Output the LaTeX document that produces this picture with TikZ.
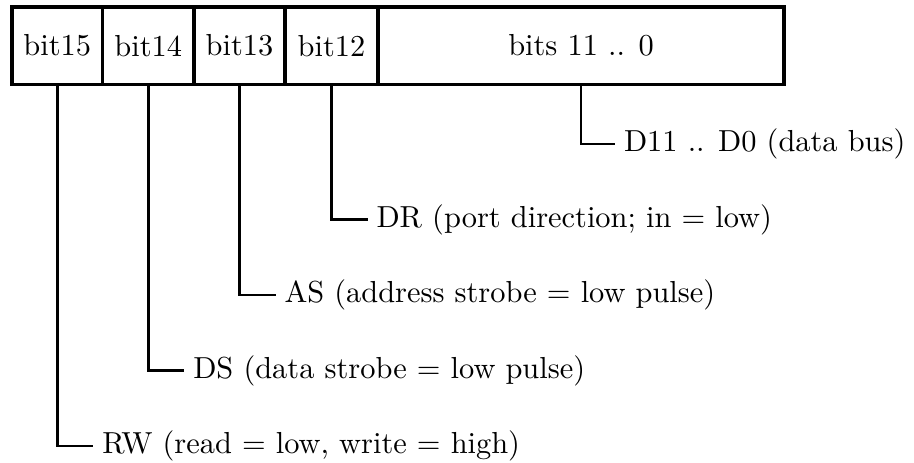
\documentclass[tikz,border=0pt]{standalone}
\begin{document}
\begin{tikzpicture}[x=0.3289pt,y=-0.3289pt,
  cell/.style={draw,line width=1.2pt,inner sep=0pt,minimum height=25.5pt,anchor=center},
  lbl/.style={anchor=west,inner xsep=2.96pt,inner ysep=0pt,outer sep=0pt},
  wire/.style={line width=0.85pt}]
\useasboundingbox (0,0) rectangle (914,463);

% register fields
\node[cell,minimum width=29.77pt] (c15) at (57.25,45.75) {bit15};
\node[cell,minimum width=30.09pt] (c14) at (148.25,45.75) {bit14};
\node[cell,minimum width=29.93pt] (c13) at (239.5,45.75) {bit13};
\node[cell,minimum width=30.59pt] (c12) at (331.5,45.75) {bit12};
\node[cell,minimum width=133.5pt] (cd) at (581,45.75) {bits 11 .. 0};

% signal descriptions
\node[lbl] (dbus) at (615,144)    {D11 .. D0 (data bus)};
\node[lbl] (dr)   at (367.5,219.5) {DR (port direction; in $=$ low)};
\node[lbl] (as)   at (275.5,295)  {AS (address strobe $=$ low pulse)};
\node[lbl] (ds)   at (184.25,370.5) {DS (data strobe $=$ low pulse)};
\node[lbl] (rw)   at (93.25,446)  {RW (read $=$ low, write $=$ high)};

% leader lines
\draw[wire] (cd.south)  |- (dbus.west);
\draw[wire] (c12.south) |- (dr.west);
\draw[wire] (c13.south) |- (as.west);
\draw[wire] (c14.south) |- (ds.west);
\draw[wire] (c15.south) |- (rw.west);
\end{tikzpicture}
\end{document}
